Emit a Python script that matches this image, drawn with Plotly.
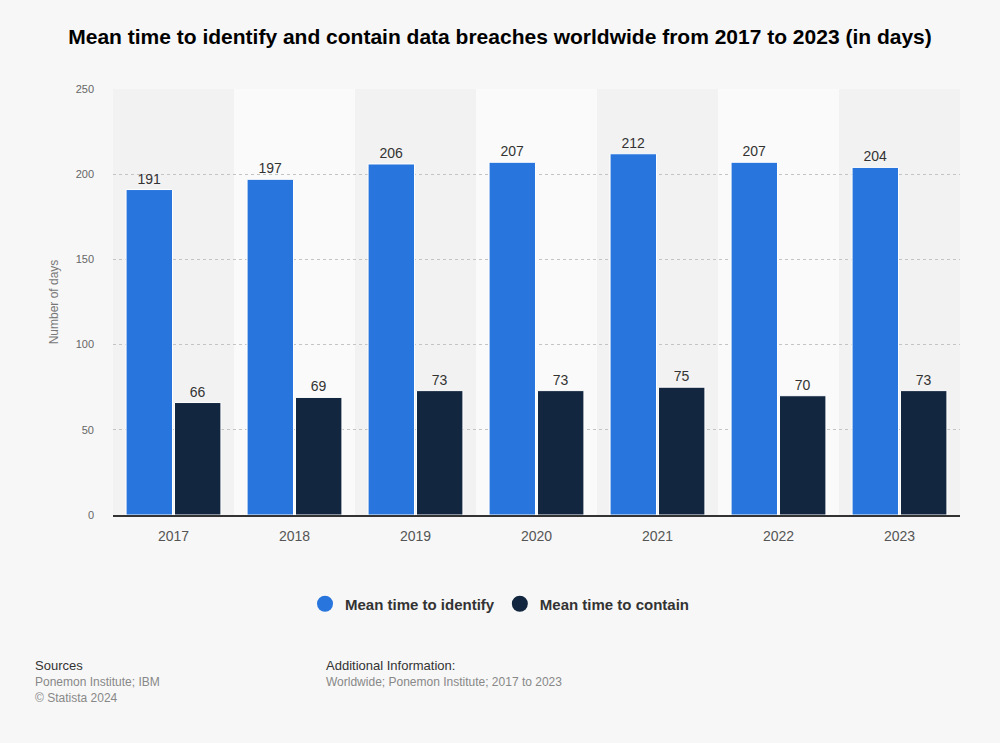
import plotly.graph_objects as go

years = ["2017", "2018", "2019", "2020", "2021", "2022", "2023"]
identify = [191, 197, 206, 207, 212, 207, 204]
contain = [66, 69, 73, 73, 75, 70, 73]
series_names = ["Mean time to identify", "Mean time to contain"]
colors = ["#2876dd", "#12263f"]

FONT = "Liberation Sans, Arial, sans-serif"
W, H = 1000, 743
L, R, T, B = 113, 40, 89, 228
PW, PH = W - L - R, H - T - B


def px_x(x):
    return (x - L) / PW


def px_y(y):
    return (H - B - y) / PH


fig = go.Figure()

for name, vals, col in zip(series_names, [identify, contain], colors):
    fig.add_trace(go.Bar(
        x=years, y=vals, name=name, marker_color=col,
        marker_line_color="white", marker_line_width=1,
        text=vals, textposition="outside", cliponaxis=False,
        textfont=dict(size=14, color="#333333", family=FONT),
        showlegend=False,
    ))
    # legend entries with round markers
    fig.add_trace(go.Scatter(
        x=[None], y=[None], mode="markers", name="<b>" + name + "</b>",
        marker=dict(size=16, color=col, symbol="circle"),
    ))

# lighter bands behind every other year
for i in range(1, len(years), 2):
    fig.add_shape(type="rect", xref="x", yref="paper",
                  x0=i - 0.5, x1=i + 0.5, y0=0, y1=1,
                  fillcolor="#fafafa", line_width=0, layer="below")

fig.update_layout(
    width=W, height=H,
    margin=dict(l=L, r=R, t=T, b=B),
    paper_bgcolor="#f7f7f7", plot_bgcolor="#f2f2f2",
    barmode="group", bargap=0.2, bargroupgap=0.04,
    font=dict(family=FONT, color="#666666"),
    title=dict(text="<b>Mean time to identify and contain data breaches worldwide from 2017 to 2023 (in days)</b>",
               x=0.5, xanchor="center", y=1 - 37 / H, yanchor="middle",
               font=dict(size=21, color="#000000", family=FONT)),
    legend=dict(orientation="h", x=px_x(500), xanchor="center", y=px_y(604), yanchor="middle",
                font=dict(size=15, color="#333333", family=FONT), itemwidth=30,
                bgcolor="rgba(0,0,0,0)"),
)

fig.update_xaxes(
    type="category", showgrid=False, showline=True, linecolor="#333333", linewidth=1.5,
    ticks="", tickfont=dict(size=14, color="#555555"), ticklabelstandoff=7,
)
fig.update_yaxes(
    range=[0, 250], tickvals=[0, 50, 100, 150, 200, 250],
    showgrid=True, gridcolor="#c4c4c4", griddash="dot", gridwidth=1,
    zeroline=False, showline=False, ticks="",
    tickfont=dict(size=11, color="#666666"), ticklabelstandoff=18,
    title=dict(text="Number of days", font=dict(size=12, color="#777777"), standoff=14),
)

notes = [
    (33, 665, "Sources", "#333333", 13),
    (33, 682, "Ponemon Institute; IBM", "#888888", 12),
    (33, 698, "© Statista 2024", "#888888", 12),
    (324, 665, "Additional Information:", "#333333", 13),
    (324, 682, "Worldwide; Ponemon Institute; 2017 to 2023", "#888888", 12),
]
for x, y, txt, col, size in notes:
    fig.add_annotation(xref="paper", yref="paper", x=px_x(x), y=px_y(y),
                       xanchor="left", yanchor="middle", text=txt, showarrow=False,
                       font=dict(size=size, color=col, family=FONT))

fig.write_html("out.html", config={"displayModeBar": False},
               post_script="document.body.style.margin='0';document.body.style.background='#f7f7f7';")
